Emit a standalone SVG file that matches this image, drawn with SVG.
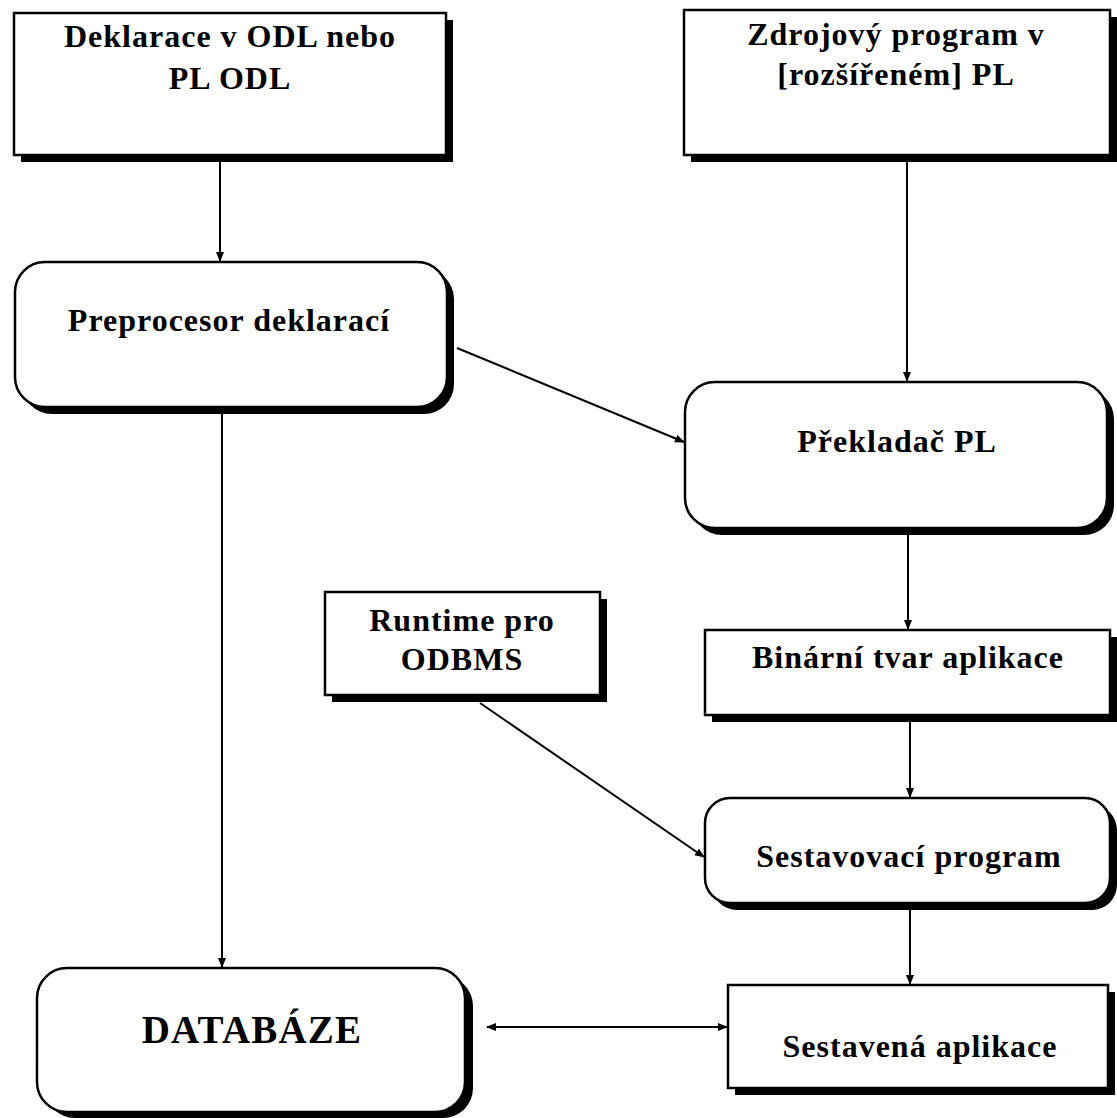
<svg xmlns="http://www.w3.org/2000/svg" width="1117" height="1118" viewBox="0 0 1117 1118">
<style>
.sh{fill:#000}
.bx{fill:#fff;stroke:#000;stroke-width:2.5}
.t{font-family:"Liberation Serif","Times New Roman",serif;font-weight:bold;font-size:32px;letter-spacing:1px;fill:#000;text-anchor:middle}
.big{font-size:39px;letter-spacing:1.2px}
.c{fill:none;stroke:#000;stroke-width:2}
</style>
<defs>
<marker id="ah" viewBox="0 0 10 10" refX="9" refY="5" markerWidth="10" markerHeight="10" markerUnits="userSpaceOnUse" orient="auto-start-reverse">
<path d="M0,1 L10,5 L0,9 Z" fill="#000"/>
</marker>
</defs>
<rect width="1117" height="1118" fill="#fff"/>
<g id="connectors">
<line class="c" x1="220" y1="162" x2="220" y2="261" marker-end="url(#ah)"/>
<line class="c" x1="907" y1="162" x2="907" y2="381" marker-end="url(#ah)"/>
<line class="c" x1="457" y1="348" x2="684" y2="442" marker-end="url(#ah)"/>
<line class="c" x1="222" y1="414" x2="222" y2="967" marker-end="url(#ah)"/>
<line class="c" x1="908" y1="535" x2="908" y2="629" marker-end="url(#ah)"/>
<line class="c" x1="910" y1="722" x2="910" y2="797" marker-end="url(#ah)"/>
<line class="c" x1="480" y1="703" x2="704" y2="857" marker-end="url(#ah)"/>
<line class="c" x1="910" y1="910" x2="910" y2="984" marker-end="url(#ah)"/>
<line class="c" x1="487" y1="1027" x2="727" y2="1027" marker-start="url(#ah)" marker-end="url(#ah)"/>
</g>
<g id="deklarace">
<rect class="sh" x="21" y="20" width="432" height="142"/>
<rect class="bx" x="14" y="13" width="432" height="142"/>
<text class="t" x="230" y="47">Deklarace v ODL nebo</text>
<text class="t" x="230" y="89">PL ODL</text>
</g>
<g id="zdrojovy">
<rect class="sh" x="691" y="17" width="426" height="145"/>
<rect class="bx" x="684" y="10" width="426" height="145"/>
<text class="t" x="896" y="45">Zdrojový program v</text>
<text class="t" x="896" y="85">[rozšířeném] PL</text>
</g>
<g id="preprocesor">
<rect class="sh" x="22" y="269" width="432" height="145" rx="30"/>
<rect class="bx" x="15" y="262" width="432" height="145" rx="30"/>
<text class="t" x="229" y="331">Preprocesor deklarací</text>
</g>
<g id="prekladac">
<rect class="sh" x="692" y="389" width="422" height="146" rx="30"/>
<rect class="bx" x="685" y="382" width="422" height="146" rx="30"/>
<text class="t" x="897" y="452">Překladač PL</text>
</g>
<g id="runtime">
<rect class="sh" x="332" y="599" width="275" height="103"/>
<rect class="bx" x="325" y="592" width="275" height="103"/>
<text class="t" x="462" y="631">Runtime pro</text>
<text class="t" x="462" y="670">ODBMS</text>
</g>
<g id="binarni">
<rect class="sh" x="712" y="637" width="405" height="85"/>
<rect class="bx" x="705" y="630" width="405" height="85"/>
<text class="t" x="908" y="668">Binární tvar aplikace</text>
</g>
<g id="sestavovaci">
<rect class="sh" x="712" y="805" width="405" height="105" rx="25"/>
<rect class="bx" x="705" y="798" width="405" height="105" rx="25"/>
<text class="t" x="909" y="867">Sestavovací program</text>
</g>
<g id="databaze">
<rect class="sh" x="45" y="976" width="428" height="142" rx="30"/>
<rect class="bx" x="37" y="968" width="428" height="144" rx="30"/>
<text class="t big" x="252" y="1043">DATABÁZE</text>
</g>
<g id="sestavena">
<rect class="sh" x="735" y="992" width="380" height="103"/>
<rect class="bx" x="728" y="985" width="380" height="103"/>
<text class="t" x="920" y="1057">Sestavená aplikace</text>
</g>
</svg>
